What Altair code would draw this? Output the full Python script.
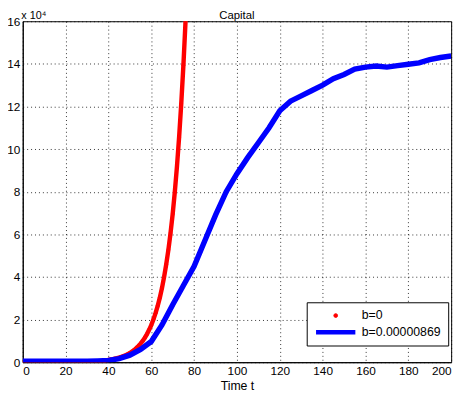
import altair as alt
import pandas as pd

# Red series (b=0), values in units of 1e4
red_t = list(range(0, 40, 2)) + list(range(40, 77))
red_v = [0.0] * 20 + [0.11, 0.125, 0.14, 0.165, 0.19, 0.22, 0.25, 0.29, 0.33, 0.38,
                      0.43, 0.5, 0.57, 0.66, 0.76, 0.87, 1.0, 1.15, 1.32, 1.52,
                      1.74, 2.0, 2.3, 2.64, 3.03, 3.48, 4.0, 4.6, 5.28, 6.06,
                      6.96, 8.0, 9.19, 10.56, 12.13, 13.93, 16.0]

# Blue series (b=0.00000869)
blue_t = list(range(0, 201, 5))
blue_v = [0.05, 0.05, 0.05, 0.05, 0.05, 0.05, 0.05, 0.06, 0.08, 0.17,
          0.33, 0.6, 0.97, 1.75, 2.7, 3.6, 4.5, 5.7, 6.9, 8.0,
          8.85, 9.6, 10.3, 11.0, 11.8, 12.25, 12.5, 12.75, 13.0, 13.3,
          13.5, 13.75, 13.85, 13.9, 13.85, 13.92, 13.98, 14.05, 14.2, 14.3,
          14.37]

labels = ["b=0", "b=0.00000869"]
colors = ["#ff0000", "#0000ff"]

df = pd.DataFrame(
    {"t": red_t + blue_t,
     "v": red_v + blue_v,
     "series": [labels[0]] * len(red_t) + [labels[1]] * len(blue_t)}
)

FONT = "Liberation Sans"

x = alt.X("t:Q", scale=alt.Scale(domain=[0, 200], nice=False),
          axis=alt.Axis(values=list(range(0, 201, 20)), title="Time t"))
y = alt.Y("v:Q", scale=alt.Scale(domain=[0, 16], nice=False),
          axis=alt.Axis(values=list(range(0, 17, 2)), title="x 10⁴",
                        titleAngle=0, titleX=-2, titleY=-1, titleAlign="left",
                        titleBaseline="bottom", titleFontSize=11))

cscale = alt.Scale(domain=labels, range=colors)
legend = alt.Legend(title=None, orient="none", legendX=289, legendY=286,
                    fillColor="white", strokeColor="black",
                    padding=7, labelFont=FONT, labelFontSize=12.5,
                    labelColor="black", rowPadding=4, labelOffset=4, clipHeight=13)

blue = alt.Chart(df).transform_filter(alt.datum.series == labels[1]).mark_line(
    strokeWidth=5.5, clip=True
).encode(x=x, y=y, color=alt.Color("series:N", scale=cscale, legend=legend))

red_line = alt.Chart(df).transform_filter(alt.datum.series == labels[0]).mark_line(
    strokeWidth=4.5, clip=True
).encode(x=x, y=y, color=alt.Color("series:N", scale=cscale, legend=legend))

red_pts = alt.Chart(df).transform_filter(alt.datum.series == labels[0]).mark_point(
    filled=True, clip=True, opacity=1
).encode(
    x=x, y=y,
    color=alt.Color("series:N", scale=cscale, legend=legend),
    shape=alt.Shape("series:N", scale=alt.Scale(domain=labels, range=["circle", "stroke"]), legend=legend),
    size=alt.Size("series:N", scale=alt.Scale(domain=labels, range=[14, 1600]), legend=legend),
    strokeWidth=alt.StrokeWidth("series:N", scale=alt.Scale(domain=labels, range=[1, 4.5]), legend=legend),
)

chart = alt.layer(red_pts, red_line, blue).properties(
    width=436, height=347,
    title=alt.TitleParams("Capital", fontSize=11.5, font=FONT, fontWeight="normal",
                          offset=3, dy=15),
    autosize=alt.AutoSizeParams(type="none"),
    padding={"left": 15, "top": 10, "right": 9, "bottom": 37},
    background="white",
).configure_view(stroke="black", strokeWidth=1).configure_axis(
    labelFont=FONT, labelFontSize=12, labelColor="black",
    titleFont=FONT, titleFontSize=12.5, titleFontWeight="normal", titleColor="black",
    gridColor="#000000", gridDash=[1, 3], gridOpacity=0.8, gridWidth=1,
    domainColor="black", ticks=False, labelPadding=3, titlePadding=4,
)

chart.save("out.html", embed_options={"renderer": "svg", "actions": False})
